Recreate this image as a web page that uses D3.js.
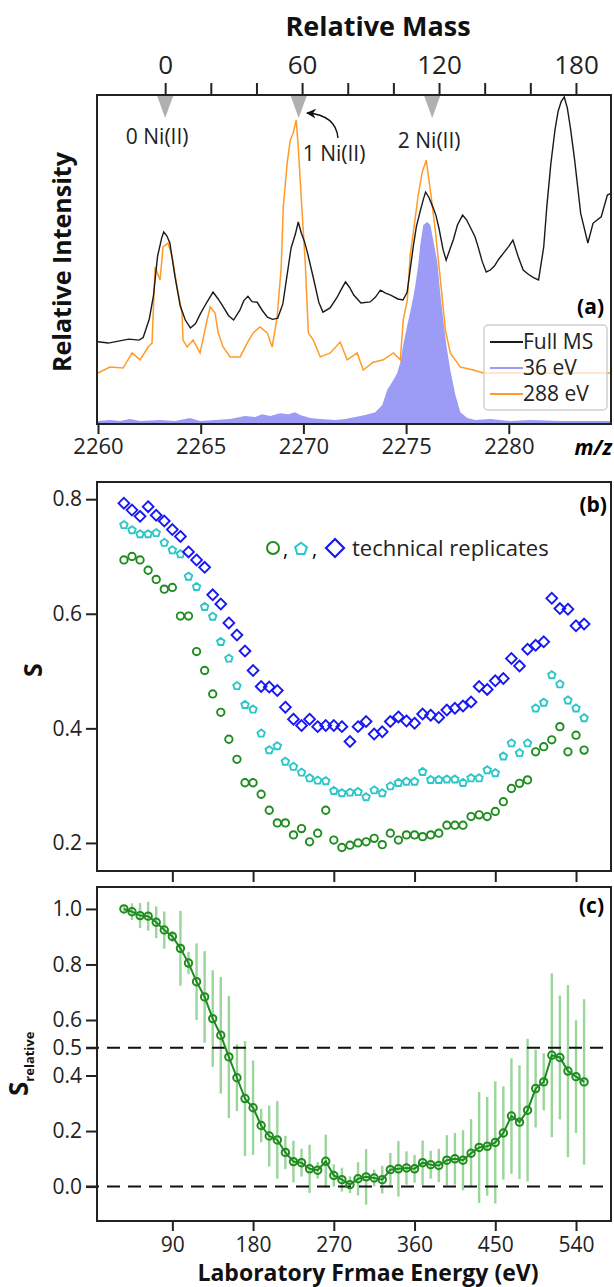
<!DOCTYPE html>
<html>
<head>
<meta charset="utf-8">
<script src="https://cdn.jsdelivr.net/npm/d3@7"></script>
<style>
body{margin:0;background:#fff;}
svg{display:block;font-family:"Open Sans",sans-serif;}
</style>
</head>
<body>
<script>
//---- panel (a): mass spectra, intensity in % of frame height ----
var mzFull = [2260.0,2260.5,2261.0,2261.5,2262.0,2262.2,2262.5,2262.7,2262.9,2263.1,2263.2,2263.35,2263.5,2263.75,2264.0,2264.25,2264.5,2264.75,2265.0,2265.3,2265.6,2265.85,2266.1,2266.35,2266.6,2266.9,2267.1,2267.3,2267.5,2267.75,2268.0,2268.25,2268.5,2268.75,2269.0,2269.2,2269.4,2269.6,2269.75,2269.9,2270.05,2270.2,2270.5,2270.75,2270.95,2271.3,2271.65,2271.85,2272.05,2272.25,2272.45,2272.8,2273.25,2273.5,2273.75,2274.0,2274.25,2274.6,2274.85,2275.05,2275.2,2275.35,2275.5,2275.7,2275.85,2275.95,2276.1,2276.3,2276.45,2276.6,2276.8,2276.95,2277.1,2277.3,2277.5,2277.75,2277.95,2278.15,2278.35,2278.5,2278.7,2278.9,2279.1,2279.3,2279.5,2279.75,2280.0,2280.2,2280.45,2280.7,2280.95,2281.2,2281.45,2281.7,2281.85,2282.05,2282.25,2282.4,2282.55,2282.7,2282.85,2283.0,2283.2,2283.5,2283.85,2284.1,2284.3,2284.5,2284.8,2285.0];
var intFull = [25.0,24.6,25.2,25.8,25.5,26.3,32.0,39.0,51.0,56.5,58.4,57.2,55.0,44.7,36.0,31.6,29.2,30.5,33.7,37.0,40.1,38.0,35.6,33.0,31.6,34.5,37.5,38.8,37.2,37.0,34.5,32.5,31.8,32.2,36.5,45.0,53.5,57.5,61.4,58.0,55.5,52.0,44.0,37.0,34.0,35.3,38.6,41.0,43.2,41.5,39.2,36.8,37.1,38.5,40.7,39.8,39.2,38.0,37.7,40.0,47.0,54.0,60.0,65.0,68.5,70.5,69.0,66.0,63.5,59.5,53.0,49.8,52.5,56.0,60.5,63.5,62.0,59.5,57.0,54.0,49.5,46.2,46.8,48.0,50.0,52.0,54.0,55.9,51.0,46.8,45.5,44.5,43.8,53.8,66.0,79.3,89.5,95.0,98.0,99.4,96.0,90.0,80.5,64.0,55.0,61.0,62.0,63.0,69.6,70.2];

var mz288 = [2260.0,2260.58,2261.22,2261.66,2262.05,2262.44,2262.63,2262.78,2263.02,2263.17,2263.41,2263.61,2263.85,2264.09,2264.14,2264.34,2264.63,2264.97,2265.31,2265.46,2265.7,2265.85,2266.09,2266.43,2266.92,2267.26,2267.55,2267.89,2268.24,2268.48,2268.72,2268.92,2269.02,2269.21,2269.36,2269.5,2269.65,2269.75,2269.94,2270.09,2270.24,2270.48,2270.82,2271.31,2271.79,2272.13,2272.62,2272.91,2273.4,2273.89,2274.38,2274.72,2274.86,2275.06,2275.2,2275.4,2275.59,2275.79,2275.98,2276.18,2276.42,2276.67,2276.91,2277.15,2277.64,2278.27,2278.76,2285.0];
var int288 = [15.5,17.3,17.0,21.6,19.5,23.4,24.6,47.7,43.8,53.8,55.0,50.8,41.6,33.7,25.5,23.4,25.5,21.6,31.6,35.6,33.7,27.7,23.4,20.4,20.4,24.6,27.7,29.5,27.7,23.4,32.5,47.7,66.0,79.3,86.3,88.4,92.4,84.2,64.1,48.9,27.7,25.5,20.4,21.6,24.9,19.5,21.6,16.4,18.8,19.5,21.6,19.5,31.6,37.7,51.4,60.5,69.6,76.6,80.2,71.1,59.0,43.8,28.6,21.6,17.3,16.4,15.5,15.5];

var mz36 = [2260.0,2260.58,2261.07,2261.56,2262.05,2263.02,2263.75,2264.48,2264.97,2265.7,2266.43,2267.16,2267.65,2267.99,2268.38,2268.87,2269.26,2269.6,2269.84,2270.33,2270.82,2271.55,2272.04,2272.52,2273.01,2273.5,2273.84,2274.08,2274.38,2274.57,2274.72,2274.86,2275.06,2275.2,2275.35,2275.45,2275.59,2275.69,2275.84,2276.03,2276.18,2276.32,2276.52,2276.67,2276.81,2276.96,2277.15,2277.4,2277.64,2277.98,2278.37,2279.1,2280.08,2281.05,2282.51,2285.0];
var int36 = [0.9,1.2,0.9,1.5,0.9,1.2,0.9,1.8,0.9,1.2,1.5,2.4,2.1,3.0,2.4,3.3,3.0,3.6,2.7,1.8,1.5,1.2,1.5,2.1,2.7,3.6,5.8,10.3,13.4,15.5,18.8,24.0,30.1,34.0,38.6,42.2,48.3,54.4,60.5,61.4,60.5,55.9,49.2,39.2,31.6,24.0,16.4,8.8,3.6,1.8,1.2,1.5,0.9,1.2,0.9,0.9];

var mzTicks = [2260,2265,2270,2275,2280];
var massTicks = [0,20,40,60,80,100,120,140,160,180];
var massLabels = [0,60,120,180];
var niMarks = [0,58.5,117];
var niLabels = ["0 Ni(II)","1 Ni(II)","2 Ni(II)"];
var legendA = ["Full MS","36 eV","288 eV"];

//---- panel (b): S of three technical replicates ----
var energy = [36,45,54,63,72,81,90,99,108,117,126,135,144,153,162,171,180,189,198,207,216,225,234,243,252,261,270,279,288,297,306,315,324,333,342,351,360,369,378,387,396,405,414,423,432,441,450,459,468,477,486,495,504,513,522,531,540,549];
var sRep1 = [0.694,0.700,0.694,0.676,0.660,0.643,0.646,0.596,0.596,0.534,0.501,0.460,0.428,0.381,0.346,0.305,0.305,0.285,0.257,0.235,0.235,0.214,0.225,0.202,0.217,0.257,0.205,0.192,0.196,0.200,0.202,0.208,0.197,0.217,0.205,0.214,0.214,0.211,0.214,0.217,0.231,0.231,0.231,0.246,0.249,0.246,0.255,0.272,0.295,0.304,0.310,0.359,0.368,0.380,0.403,0.359,0.388,0.362];
var sRep2 = [0.755,0.746,0.739,0.739,0.741,0.724,0.711,0.704,0.665,0.647,0.612,0.595,0.551,0.522,0.474,0.441,0.433,0.391,0.362,0.369,0.342,0.333,0.323,0.313,0.309,0.308,0.291,0.287,0.288,0.289,0.280,0.292,0.287,0.299,0.305,0.307,0.307,0.324,0.310,0.310,0.311,0.311,0.305,0.313,0.313,0.327,0.322,0.351,0.374,0.357,0.374,0.435,0.445,0.493,0.477,0.449,0.435,0.418];
var sRep3 = [0.793,0.781,0.770,0.787,0.772,0.762,0.747,0.735,0.708,0.694,0.681,0.633,0.617,0.584,0.563,0.535,0.501,0.473,0.472,0.466,0.437,0.416,0.405,0.416,0.403,0.405,0.405,0.403,0.377,0.403,0.412,0.390,0.394,0.412,0.420,0.413,0.409,0.425,0.423,0.419,0.432,0.435,0.439,0.446,0.473,0.468,0.483,0.487,0.522,0.509,0.538,0.545,0.551,0.627,0.609,0.608,0.579,0.582];
var sTicks = [0.2,0.4,0.6,0.8];
var energyTicks = [90,180,270,360,450,540];

//---- panel (c): relative S with error bars ----
var sRel = [1.000,0.990,0.976,0.974,0.952,0.924,0.901,0.858,0.805,0.738,0.683,0.605,0.545,0.467,0.392,0.317,0.284,0.220,0.182,0.168,0.123,0.090,0.086,0.064,0.059,0.091,0.040,0.025,0.007,0.028,0.035,0.031,0.025,0.061,0.064,0.067,0.064,0.086,0.079,0.076,0.095,0.100,0.095,0.120,0.141,0.145,0.159,0.193,0.254,0.232,0.275,0.353,0.377,0.473,0.465,0.416,0.396,0.377];
var sRelErr = [0.01,0.03,0.045,0.052,0.057,0.067,0.02,0.135,0.04,0.138,0.165,0.174,0.21,0.22,0.12,0.207,0.17,0.06,0.11,0.14,0.06,0.075,0.05,0.087,0.03,0.096,0.04,0.043,0.03,0.06,0.10,0.03,0.05,0.06,0.10,0.06,0.05,0.08,0.05,0.06,0.09,0.093,0.108,0.123,0.20,0.178,0.22,0.168,0.208,0.205,0.257,0.14,0.103,0.295,0.223,0.31,0.203,0.298];
var sRelTicks = [0,0.2,0.4,0.5,0.6,0.8,1.0];
var refLines = [0.5,0];

(function(){
var width = 614, height = 1287;
var left = 97, right = 611;
var green = "#1f8c1f", cyan = "#2cc5c8", blue = "#1818f2", orange = "#ff9b26", lilac = "#9c9cf6";

var svg = d3.select("body").append("svg")
    .attr("width", width)
    .attr("height", height);

//arrowhead for the 1 Ni(II) note
svg.append("defs").append("marker")
    .attr("id", "arr")
    .attr("viewBox", "0 0 10 10")
    .attr("refX", 9).attr("refY", 5)
    .attr("markerWidth", 7).attr("markerHeight", 7)
    .attr("orient", "auto")
    .append("path").attr("d", "M0,0L10,5L0,10L3,5Z").attr("fill", "#111");

drawSpectra();
drawReplicates();
drawRelative();

//style an axis group the same way everywhere
function styleAxis(g, size){
    g.attr("font-family", "'Open Sans',sans-serif").attr("font-size", size || 21);
    g.select(".domain").remove();
    g.selectAll(".tick line").attr("stroke", "#222").attr("stroke-width", 2);
    g.selectAll(".tick text").attr("fill", "#222");
}

function frame(top, bottom){
    svg.append("rect")
        .attr("x", left).attr("y", top)
        .attr("width", right - left).attr("height", bottom - top)
        .attr("fill", "none").attr("stroke", "#222").attr("stroke-width", 2);
}

function pentagon(r){
    var pts = [];
    for (var i=0; i<5; i++){
        var a = -Math.PI/2 + i*2*Math.PI/5;
        pts.push([r*Math.cos(a), r*Math.sin(a)]);
    };
    return "M" + pts.join("L") + "Z";
}
function diamond(r){
    return "M0," + (-r) + "L" + r + ",0L0," + r + "L" + (-r) + ",0Z";
}

//panel (a)
function drawSpectra(){
    var top = 95, bottom = 424;
    var x = d3.scaleLinear().domain([2260, 2285]).range([98, 611.5]);
    var y = d3.scaleLinear().domain([0, 100]).range([bottom, top]);
    //relative mass axis: charge 9, zero at the bare complex
    var charge = 9, mzZero = 2263.27;
    var xRel = d3.scaleLinear()
        .domain(x.domain().map(function(m){ return (m - mzZero)*charge; }))
        .range(x.range());

    var g = svg.append("g");
    g.append("clipPath").attr("id", "clipA").append("rect")
        .attr("x", left).attr("y", top).attr("width", right-left).attr("height", bottom-top);
    var plot = g.append("g").attr("clip-path", "url(#clipA)");

    //36 eV filled spectrum
    plot.append("path")
        .datum(mz36.map(function(m, i){ return [m, int36[i]]; }))
        .attr("fill", lilac)
        .attr("d", d3.area().x(function(d){ return x(d[0]); }).y0(y(0)).y1(function(d){ return y(d[1]); }));

    //288 eV line
    plot.append("path")
        .datum(mz288.map(function(m, i){ return [m, int288[i]]; }))
        .attr("fill", "none").attr("stroke", orange).attr("stroke-width", 1.5)
        .attr("d", d3.line().x(function(d){ return x(d[0]); }).y(function(d){ return y(d[1]); }));

    //full MS line
    plot.append("path")
        .datum(mzFull.map(function(m, i){ return [m, intFull[i]]; }))
        .attr("fill", "none").attr("stroke", "#1a1a1a").attr("stroke-width", 1.4)
        .attr("d", d3.line().x(function(d){ return x(d[0]); }).y(function(d){ return y(d[1]); }));

    //gray markers at 0/1/2 Ni(II)
    g.selectAll(".ni").data(niMarks).enter().append("path")
        .attr("d", "M-8,0L8,0L0,22Z")
        .attr("transform", function(d){ return "translate(" + xRel(d) + "," + (top + 1) + ")"; })
        .attr("fill", "#b0b0b0");

    var nl = g.append("g").attr("font-size", 21).attr("fill", "#222");
    nl.append("text").attr("x", xRel(niMarks[0]) - 8).attr("y", 144).attr("text-anchor", "middle").text(niLabels[0]);
    nl.append("text").attr("x", xRel(niMarks[1]) + 4).attr("y", 161).text(niLabels[1]);
    nl.append("text").attr("x", xRel(niMarks[2]) - 3).attr("y", 148).attr("text-anchor", "middle").text(niLabels[2]);

    g.append("path")
        .attr("d", "M338,138Q336,115 307,113")
        .attr("fill", "none").attr("stroke", "#111").attr("stroke-width", 1.4)
        .attr("marker-end", "url(#arr)");

    //legend
    var lg = g.append("g").attr("transform", "translate(484,325)");
    lg.append("rect").attr("width", 123).attr("height", 85).attr("rx", 4)
        .attr("fill", "#fff").attr("fill-opacity", 0.7).attr("stroke", "#cfcfcf").attr("stroke-width", 1.5);
    var cols = ["#1a1a1a", lilac, orange];
    legendA.forEach(function(t, i){
        var yy = 17 + i*26;
        lg.append("line").attr("x1", 6).attr("x2", 39).attr("y1", yy).attr("y2", yy)
            .attr("stroke", cols[i]).attr("stroke-width", 2);
        lg.append("text").attr("x", 39).attr("y", yy + 7).attr("font-size", 21).attr("fill", "#222").text(t);
    });

    frame(top, bottom);

    //axes
    var ax = g.append("g").attr("transform", "translate(0," + bottom + ")")
        .call(d3.axisBottom(x).tickValues(mzTicks).tickSize(10).tickPadding(4).tickFormat(d3.format("d")));
    styleAxis(ax, 22);
    g.append("text").attr("x", 612).attr("y", 455).attr("text-anchor", "end")
        .attr("font-size", 21).attr("font-weight", "bold").attr("font-style", "italic").text("m/z");

    var at = g.append("g").attr("transform", "translate(0," + top + ")")
        .call(d3.axisTop(xRel).tickValues(massTicks).tickSize(12).tickPadding(9)
            .tickFormat(function(d){ return massLabels.indexOf(d) >= 0 ? d : ""; }));
    styleAxis(at, 26);

    g.append("text").attr("x", 378).attr("y", 36).attr("text-anchor", "middle")
        .attr("font-size", 27).attr("font-weight", "bold").attr("fill", "#111").text("Relative Mass");
    g.append("text").attr("transform", "translate(71,262)rotate(-90)").attr("text-anchor", "middle")
        .attr("font-size", 25).attr("font-weight", "bold").attr("fill", "#111").text("Relative Intensity");
    g.append("text").attr("x", 604).attr("y", 314).attr("text-anchor", "end")
        .attr("font-size", 21).attr("font-weight", "bold").text("(a)");
}

//panel (b)
function drawReplicates(){
    var top = 482, bottom = 871;
    var x = d3.scaleLinear().domain([6, 579]).range([left, right]);
    var y = d3.scaleLinear().domain([0.151, 0.830]).range([bottom, top]);
    var g = svg.append("g");

    //circles
    g.selectAll(".c1").data(energy).enter().append("circle")
        .attr("cx", function(d){ return x(d); })
        .attr("cy", function(d, i){ return y(sRep1[i]); })
        .attr("r", 3.7).attr("fill", "none").attr("stroke", green).attr("stroke-width", 1.9);
    //pentagons and diamonds
    var shaped = [
        {vals: sRep2, col: cyan, d: pentagon(3.9)},
        {vals: sRep3, col: blue, d: diamond(5.4)}
    ];
    shaped.forEach(function(s){
        g.append("g").selectAll("path").data(energy).enter().append("path")
            .attr("d", s.d)
            .attr("transform", function(d, i){ return "translate(" + x(d) + "," + y(s.vals[i]) + ")"; })
            .attr("fill", "none").attr("stroke", s.col).attr("stroke-width", 1.9);
    });

    //legend
    var lg = g.append("g").attr("transform", "translate(0,548)");
    lg.append("circle").attr("cx", 273).attr("r", 6).attr("fill", "none").attr("stroke", green).attr("stroke-width", 2);
    lg.append("text").attr("x", 283).attr("y", 8).attr("font-size", 20).text(",");
    lg.append("path").attr("d", pentagon(6.2)).attr("transform", "translate(301,1)")
        .attr("fill", "none").attr("stroke", cyan).attr("stroke-width", 2);
    lg.append("text").attr("x", 312).attr("y", 8).attr("font-size", 20).text(",");
    lg.append("path").attr("d", diamond(9)).attr("transform", "translate(335,0)")
        .attr("fill", "none").attr("stroke", blue).attr("stroke-width", 2.2);
    lg.append("text").attr("x", 352).attr("y", 8).attr("font-size", 22).attr("fill", "#222").text("technical replicates");

    frame(top, bottom);

    var ay = g.append("g").attr("transform", "translate(" + left + ",0)")
        .call(d3.axisLeft(y).tickValues(sTicks).tickSize(11).tickPadding(4).tickFormat(d3.format(".1f")));
    styleAxis(ay, 21);
    var ax = g.append("g").attr("transform", "translate(0," + bottom + ")")
        .call(d3.axisBottom(x).tickValues(energyTicks).tickSize(11).tickFormat(""));
    styleAxis(ax, 21);

    g.append("text").attr("transform", "translate(42,670)rotate(-90)").attr("text-anchor", "middle")
        .attr("font-size", 25).attr("font-weight", "bold").attr("fill", "#111").text("S");
    g.append("text").attr("x", 607).attr("y", 512).attr("text-anchor", "end")
        .attr("font-size", 21).attr("font-weight", "bold").text("(b)");
}

//panel (c)
function drawRelative(){
    var top = 887, bottom = 1221;
    var x = d3.scaleLinear().domain([6, 579]).range([left, right]);
    var y = d3.scaleLinear().domain([-0.124, 1.079]).range([bottom, top]);
    var g = svg.append("g");

    //error bars
    g.selectAll(".err").data(energy).enter().append("line")
        .attr("x1", function(d){ return x(d); }).attr("x2", function(d){ return x(d); })
        .attr("y1", function(d, i){ return y(sRel[i] - sRelErr[i]); })
        .attr("y2", function(d, i){ return y(sRel[i] + sRelErr[i]); })
        .attr("stroke", "#9ad69a").attr("stroke-width", 2.4);

    //dashed reference lines
    g.selectAll(".ref").data(refLines).enter().append("line")
        .attr("x1", left - 11).attr("x2", right)
        .attr("y1", function(d){ return y(d); }).attr("y2", function(d){ return y(d); })
        .attr("stroke", "#111").attr("stroke-width", 2).attr("stroke-dasharray", "13,8");

    var pts = energy.map(function(e, i){ return [e, sRel[i]]; });
    g.append("path").datum(pts)
        .attr("fill", "none").attr("stroke", green).attr("stroke-width", 2)
        .attr("d", d3.line().x(function(d){ return x(d[0]); }).y(function(d){ return y(d[1]); }));
    g.selectAll(".pt").data(pts).enter().append("circle")
        .attr("cx", function(d){ return x(d[0]); }).attr("cy", function(d){ return y(d[1]); })
        .attr("r", 3.7).attr("fill", "none").attr("stroke", green).attr("stroke-width", 2);

    frame(top, bottom);

    var ay = g.append("g").attr("transform", "translate(" + left + ",0)")
        .call(d3.axisLeft(y).tickValues(sRelTicks).tickSize(11).tickPadding(4).tickFormat(d3.format(".1f")));
    styleAxis(ay, 21);
    var ax = g.append("g").attr("transform", "translate(0," + bottom + ")")
        .call(d3.axisBottom(x).tickValues(energyTicks).tickSize(10).tickPadding(6));
    styleAxis(ax, 21);

    var lab = g.append("text").attr("transform", "translate(28,1096)rotate(-90)")
        .attr("font-weight", "bold").attr("fill", "#111");
    lab.append("tspan").attr("font-size", 26).text("S");
    lab.append("tspan").attr("font-size", 13).attr("dy", 6).text("relative");

    g.append("text").attr("x", 368).attr("y", 1281).attr("text-anchor", "middle")
        .attr("font-size", 23).attr("font-weight", "bold").attr("fill", "#111").text("Laboratory Frmae Energy (eV)");
    g.append("text").attr("x", 604).attr("y", 913).attr("text-anchor", "end")
        .attr("font-size", 21).attr("font-weight", "bold").text("(c)");
}
})();
</script>
</body>
</html>
